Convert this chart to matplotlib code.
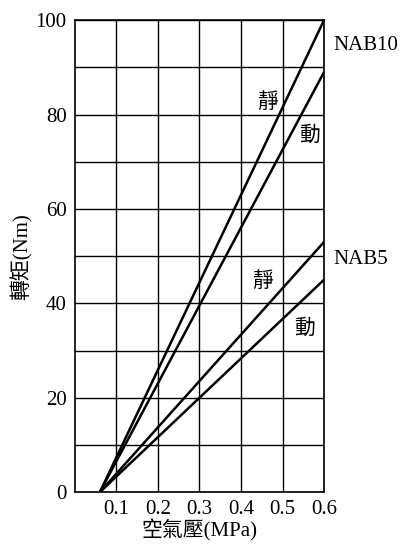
import numpy as np
import matplotlib.pyplot as plt

plt.rcParams['font.family'] = ['Liberation Serif', 'Noto Sans CJK TC']
plt.rcParams['font.size'] = 15

# start pressure (MPa) where torque is zero, end pressure
x_start = 0.06
x_end = 0.6
# torque at 0.6 MPa for each line
nab10_static = 100
nab10_dynamic = 89
nab5_static = 53
nab5_dynamic = 45

xticks = [0.1, 0.2, 0.3, 0.4, 0.5, 0.6]
yticks = [0, 20, 40, 60, 80, 100]

fig = plt.figure(figsize=(4.03, 5.45), dpi=100)
ax = fig.add_axes([0.186, 0.097, 0.618, 0.866])

for end in [nab10_static, nab10_dynamic, nab5_static, nab5_dynamic]:
    ax.plot([x_start, x_end], [0, end], color='black', lw=1.8, solid_capstyle='butt')

ax.set_xlim(0, 0.6)
ax.set_ylim(0, 100)
ax.set_xticks(np.arange(0, 0.61, 0.1), minor=False)
ax.set_xticks(xticks)
ax.set_yticks(yticks)
ax.set_yticks(np.arange(0, 101, 10), minor=True)
ax.grid(True, which='both', color='black', lw=1.0)
ax.tick_params(which='both', length=0, pad=6)
for s in ax.spines.values():
    s.set_linewidth(1.2)

ax.set_xlabel('空氣壓(MPa)', labelpad=0)
ax.set_ylabel('轉矩(Nm)', labelpad=2)

ax.text(0.465, 82.4, '靜', ha='center', va='center')
ax.text(0.564, 75.4, '動', ha='center', va='center')
ax.text(0.451, 44.5, '靜', ha='center', va='center')
ax.text(0.552, 34.5, '動', ha='center', va='center')
ax.text(0.622, 94.7, 'NAB10', ha='left', va='center', clip_on=False)
ax.text(0.622, 49.2, 'NAB5', ha='left', va='center', clip_on=False)

fig.savefig('out.png', dpi=100)
